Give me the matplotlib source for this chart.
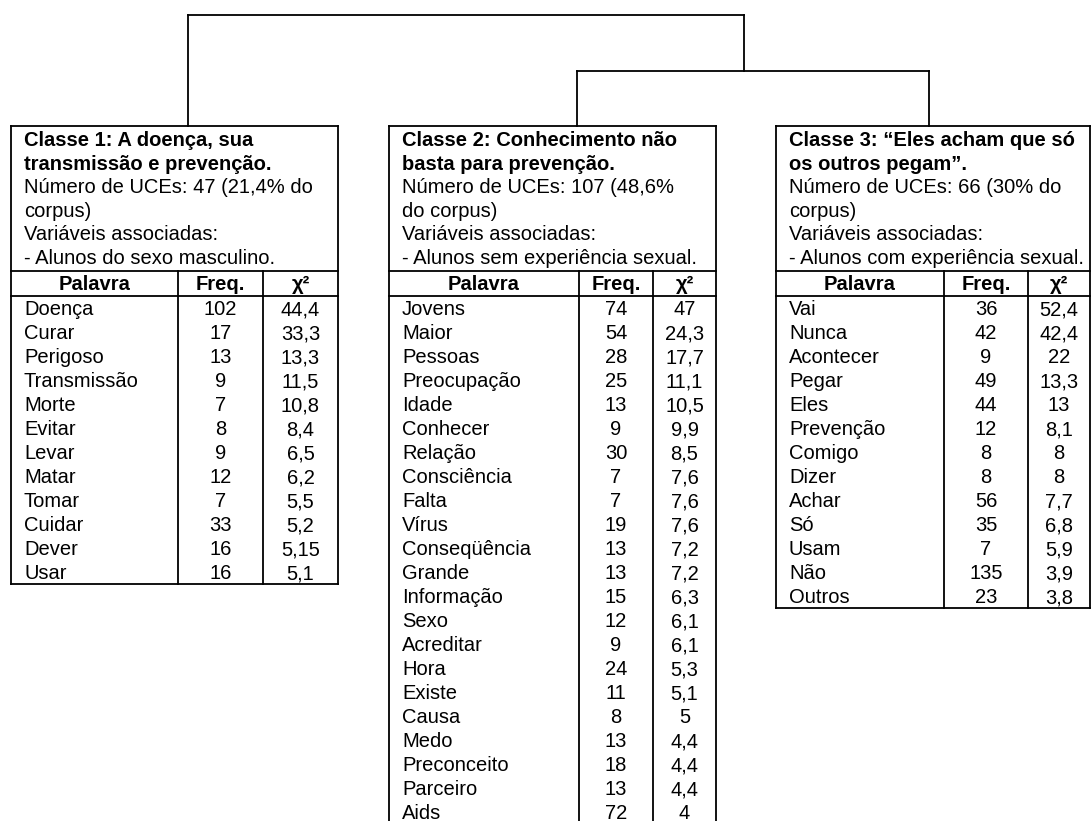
import matplotlib
matplotlib.use("Agg")
import matplotlib.pyplot as plt

plt.rcParams['font.family'] = ['Liberation Sans', 'DejaVu Sans']

# ---------------- data ----------------
class1_title = ["Classe 1: A doença, sua", "transmissão e prevenção."]
class1_info = ["Número de UCEs: 47 (21,4% do", "corpus)", "Variáveis associadas:",
               "- Alunos do sexo masculino."]
class1_words = ["Doença", "Curar", "Perigoso", "Transmissão", "Morte", "Evitar", "Levar",
                "Matar", "Tomar", "Cuidar", "Dever", "Usar"]
class1_freq = [102, 17, 13, 9, 7, 8, 9, 12, 7, 33, 16, 16]
class1_chi2 = [44.4, 33.3, 13.3, 11.5, 10.8, 8.4, 6.5, 6.2, 5.5, 5.2, 5.15, 5.1]

class2_title = ["Classe 2: Conhecimento não", "basta para prevenção."]
class2_info = ["Número de UCEs: 107 (48,6%", "do corpus)", "Variáveis associadas:",
               "- Alunos sem experiência sexual."]
class2_words = ["Jovens", "Maior", "Pessoas", "Preocupação", "Idade", "Conhecer", "Relação",
                "Consciência", "Falta", "Vírus", "Conseqüência", "Grande", "Informação",
                "Sexo", "Acreditar", "Hora", "Existe", "Causa", "Medo", "Preconceito",
                "Parceiro", "Aids"]
class2_freq = [74, 54, 28, 25, 13, 9, 30, 7, 7, 19, 13, 13, 15, 12, 9, 24, 11, 8, 13, 18, 13, 72]
class2_chi2 = [47, 24.3, 17.7, 11.1, 10.5, 9.9, 8.5, 7.6, 7.6, 7.6, 7.2, 7.2, 6.3, 6.1, 6.1,
               5.3, 5.1, 5, 4.4, 4.4, 4.4, 4]

class3_title = ["Classe 3: \u201cEles acham que só", "os outros pegam\u201d."]
class3_info = ["Número de UCEs: 66 (30% do", "corpus)", "Variáveis associadas:",
               "- Alunos com experiência sexual."]
class3_words = ["Vai", "Nunca", "Acontecer", "Pegar", "Eles", "Prevenção", "Comigo", "Dizer",
                "Achar", "Só", "Usam", "Não", "Outros"]
class3_freq = [36, 42, 9, 49, 44, 12, 8, 8, 56, 35, 7, 135, 23]
class3_chi2 = [52.4, 42.4, 22, 13.3, 13, 8.1, 8, 8, 7.7, 6.8, 5.9, 3.9, 3.8]

headers = ["Palavra", "Freq.", "\u03c7\u00b2"]

# ---------------- layout ----------------
W, H = 1092, 821
fig = plt.figure(figsize=(W / 100, H / 100), dpi=100)
ax = fig.add_axes([0, 0, 1, 1])
ax.set_xlim(0, W)
ax.set_ylim(H, 0)
ax.axis('off')

LW = 1.3
FS = 14.5
BOX_TOP = 126
HEAD_TOP = 271
HEAD_BOT = 296
ROW_H = 24
TITLE_Y0 = 139
TITLE_STEP = 23.6
BASE_OFF = 7

def fmt(v):
    return f"{v:g}".replace('.', ',')

def line(xs, ys):
    ax.plot(xs, ys, color='black', lw=LW, solid_capstyle='projecting', clip_on=True)

def draw_class(x0, x1, c1, c2, title, info, words, freq, chi2):
    n = len(words)
    bottom = HEAD_BOT + n * ROW_H
    # outer box
    line([x0, x1], [BOX_TOP, BOX_TOP])
    line([x0, x0], [BOX_TOP, bottom])
    line([x1, x1], [BOX_TOP, bottom])
    line([x0, x1], [bottom, bottom])
    line([x0, x1], [HEAD_TOP, HEAD_TOP])
    line([x0, x1], [HEAD_BOT, HEAD_BOT])
    line([c1, c1], [HEAD_TOP, bottom])
    line([c2, c2], [HEAD_TOP, bottom])
    # title lines
    lines = [(t, 'bold') for t in title] + [(t, 'normal') for t in info]
    for i, (t, w) in enumerate(lines):
        ax.text(x0 + 13, TITLE_Y0 + i * TITLE_STEP + BASE_OFF, t, fontsize=FS,
                fontweight=w, ha='left', va='baseline')
    # header
    hy = (HEAD_TOP + HEAD_BOT) / 2 + BASE_OFF
    for txt, cx in zip(headers, [(x0 + c1) / 2, (c1 + c2) / 2, (c2 + x1) / 2]):
        ax.text(cx, hy, txt, fontsize=FS, fontweight='bold', ha='center', va='baseline')
    # rows
    for i in range(n):
        y = HEAD_BOT + ROW_H * i + ROW_H / 2 + BASE_OFF
        ax.text(x0 + 13, y, words[i], fontsize=FS, ha='left', va='baseline')
        ax.text((c1 + c2) / 2, y, str(freq[i]), fontsize=FS, ha='center', va='baseline')
        ax.text((c2 + x1) / 2, y, fmt(chi2[i]), fontsize=FS, ha='center', va='baseline')

draw_class(11, 338, 178, 263, class1_title, class1_info, class1_words, class1_freq, class1_chi2)
draw_class(389, 716, 579, 653, class2_title, class2_info, class2_words, class2_freq, class2_chi2)
draw_class(776, 1090, 944, 1028, class3_title, class3_info, class3_words, class3_freq, class3_chi2)

# dendrogram
line([188, 744], [15, 15])
line([188, 188], [15, BOX_TOP])
line([744, 744], [15, 71])
line([577, 929], [71, 71])
line([577, 577], [71, BOX_TOP])
line([929, 929], [71, BOX_TOP])

fig.savefig("out.png", dpi=100, facecolor='white')
